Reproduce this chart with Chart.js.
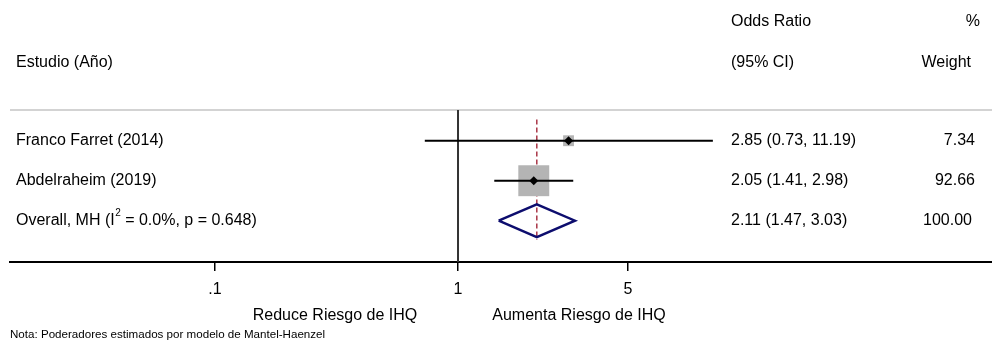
<!DOCTYPE html>
<html>
<head>
<meta charset="utf-8">
<script src="https://cdn.jsdelivr.net/npm/chart.js@4.4.1/dist/chart.umd.min.js"></script>
<style>
  html, body { margin: 0; padding: 0; background: #fff; overflow: hidden; }
  #wrap { width: 992px; height: 348px; position: relative; }
</style>
</head>
<body>
<div id="wrap"><canvas id="forest"></canvas></div>
<script>
const studies = ['Franco Farret (2014)', 'Abdelraheim (2019)'];
const oddsRatio = [2.85, 2.05];
const ciLow = [0.73, 1.41];
const ciHigh = [11.19, 2.98];
const weights = [7.34, 92.66];

// overall label: text before superscript, superscript, text after
const overallLabel = ['Overall, MH (I', '2', ' = 0.0%, p = 0.648)'];
const overallOR = 2.11;
const overallLow = 1.47;
const overallHigh = 3.03;
const overallWeight = 100.00;

const xTicks = [0.1, 1, 5];
const xTickLabels = ['.1', '1', '5'];

// axis range (log scale) and row layout
const xMin = 0.01433, xMax = 157.6;
const yMin = -2.518, yMax = 4.032;
const sepY = 0.232;
const overallRow = studies.length + 1;

const FONT = '"Liberation Sans", Arial, Helvetica, sans-serif';
const fmt = v => v.toFixed(2);

const datasets = [];

// study point estimates
datasets.push({
    data: oddsRatio.map((v, i) => ({ x: v, y: i + 1 })),
    pointStyle: 'rectRot', pointRadius: 4.5, borderWidth: 0,
    backgroundColor: '#000', order: 0
});

// confidence intervals
studies.forEach((s, i) => datasets.push({
    data: [{ x: ciLow[i], y: i + 1 }, { x: ciHigh[i], y: i + 1 }],
    showLine: true, borderColor: '#000', borderWidth: 2, pointRadius: 0, order: 1
}));

// weight boxes
datasets.push({
    data: oddsRatio.map((v, i) => ({ x: v, y: i + 1 })),
    pointStyle: 'rect',
    pointRadius: weights.map(w => (2.9 * Math.sqrt(w) + 3) / Math.SQRT2),
    backgroundColor: '#b4b4b4', borderWidth: 0, order: 2
});

// overall diamond
datasets.push({
    data: [
        { x: overallLow, y: overallRow },
        { x: overallOR, y: overallRow - 0.41 },
        { x: overallHigh, y: overallRow },
        { x: overallOR, y: overallRow + 0.41 },
        { x: overallLow, y: overallRow }
    ],
    showLine: true, borderColor: '#0d0d6e', borderWidth: 2.4, pointRadius: 0,
    tension: 0, fill: false, order: 3
});

// overall effect line
datasets.push({
    data: [{ x: overallOR, y: sepY + 0.24 }, { x: overallOR, y: overallRow + 0.48 }],
    showLine: true, borderColor: '#a3283a', borderWidth: 1.4, borderDash: [5, 3],
    pointRadius: 0, order: 4
});

// null line
datasets.push({
    data: [{ x: 1, y: sepY }, { x: 1, y: yMax }],
    showLine: true, borderColor: '#333', borderWidth: 2, pointRadius: 0, order: 5
});

// header separator
datasets.push({
    data: [{ x: xMin, y: sepY }, { x: xMax, y: sepY }],
    showLine: true, borderColor: '#c4c4c4', borderWidth: 1.5, pointRadius: 0, order: 6
});

const textPlugin = {
    id: 'forestText',
    afterDraw(chart) {
        const ctx = chart.ctx;
        const y = chart.scales.y;
        ctx.save();
        ctx.fillStyle = '#000';
        ctx.textBaseline = 'middle';
        ctx.font = '16px ' + FONT;

        const put = (t, px, py, align) => {
            ctx.textAlign = align || 'left';
            ctx.fillText(t, px, py);
        };

        // headers
        put('Odds Ratio', 731, y.getPixelForValue(-1.99));
        put('%', 980, y.getPixelForValue(-1.99), 'right');
        put('Estudio (Año)', 16, y.getPixelForValue(-0.96));
        put('(95% CI)', 731, y.getPixelForValue(-0.96));
        put('Weight', 971, y.getPixelForValue(-0.96), 'right');

        // rows
        studies.forEach((s, i) => {
            const py = y.getPixelForValue(i + 1);
            put(s, 16, py);
            put(`${fmt(oddsRatio[i])} (${fmt(ciLow[i])}, ${fmt(ciHigh[i])})`, 731, py);
            put(fmt(weights[i]), 975, py, 'right');
        });

        // overall row, with superscript
        const po = y.getPixelForValue(overallRow);
        let cx = 16;
        put(overallLabel[0], cx, po);
        cx += ctx.measureText(overallLabel[0]).width + 0.5;
        ctx.font = '10px ' + FONT;
        put(overallLabel[1], cx, po - 7);
        cx += ctx.measureText(overallLabel[1]).width;
        ctx.font = '16px ' + FONT;
        put(overallLabel[2], cx, po);
        put(`${fmt(overallOR)} (${fmt(overallLow)}, ${fmt(overallHigh)})`, 731, po);
        put(fmt(overallWeight), 972, po, 'right');

        // axis side titles
        put('Reduce Riesgo de IHQ', 335, 316, 'center');
        put('Aumenta Riesgo de IHQ', 579, 316, 'center');

        // note
        ctx.font = '11.6px ' + FONT;
        put('Nota: Poderadores estimados por modelo de Mantel-Haenzel', 10, 335);
        ctx.restore();
    }
};

new Chart(document.getElementById('forest'), {
    type: 'scatter',
    data: { datasets },
    options: {
        responsive: true,
        maintainAspectRatio: false,
        animation: false,
        events: [],
        layout: { autoPadding: false, padding: { left: 10, right: 0, top: 0, bottom: 0 } },
        plugins: { legend: { display: false }, tooltip: { enabled: false } },
        scales: {
            x: {
                type: 'logarithmic',
                position: 'bottom',
                min: xMin,
                max: xMax,
                afterBuildTicks: s => { s.ticks = xTicks.map(v => ({ value: v })); },
                afterFit: s => { s.height = 86; },
                border: { display: true, color: '#000', width: 2 },
                grid: { drawOnChartArea: false, drawTicks: true, tickLength: 9, color: '#000', lineWidth: 1.5 },
                ticks: {
                    padding: 9,
                    color: '#000',
                    font: { family: FONT, size: 16 },
                    maxRotation: 0,
                    autoSkip: false,
                    callback: (v, i) => xTickLabels[i]
                }
            },
            y: {
                type: 'linear',
                display: false,
                reverse: true,
                min: yMin,
                max: yMax
            }
        }
    },
    plugins: [textPlugin]
});
</script>
</body>
</html>
